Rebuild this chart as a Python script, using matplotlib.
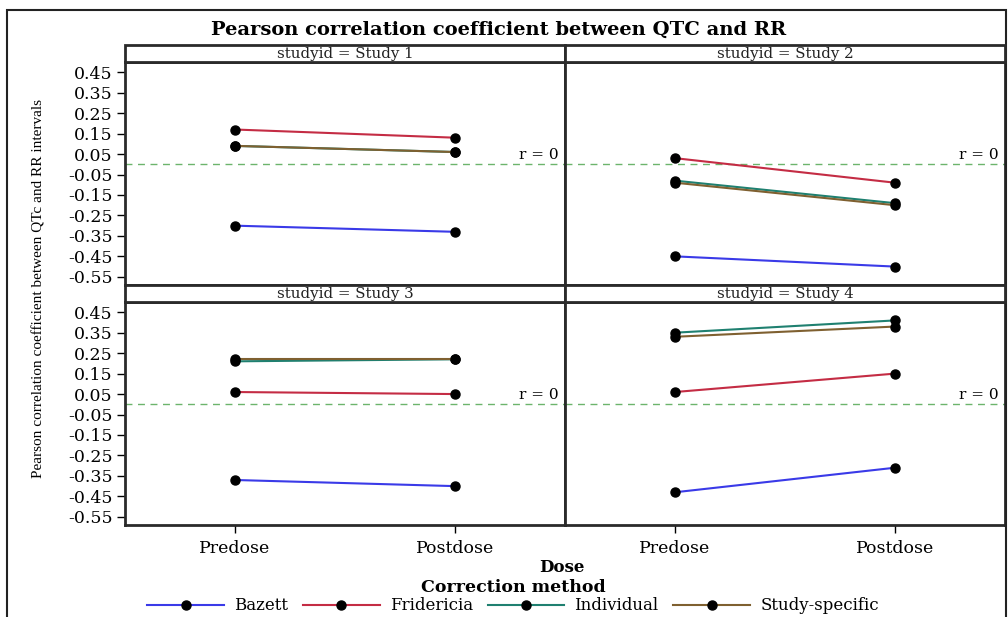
import matplotlib
matplotlib.use("Agg")
import matplotlib.pyplot as plt
from matplotlib.patches import Rectangle
from matplotlib.lines import Line2D

# ---- data ----
doses = ["Predose", "Postdose"]
studies = ["Study 1", "Study 2", "Study 3", "Study 4"]
methods = ["Bazett", "Fridericia", "Individual", "Study-specific"]
colors = ["#3a3ae8", "#c42c44", "#1f8070", "#7f6030"]

bazett = [[-0.30, -0.33], [-0.45, -0.50], [-0.37, -0.40], [-0.43, -0.31]]
fridericia = [[0.17, 0.13], [0.03, -0.09], [0.06, 0.05], [0.06, 0.15]]
individual = [[0.09, 0.06], [-0.08, -0.19], [0.21, 0.22], [0.35, 0.41]]
study_specific = [[0.09, 0.06], [-0.09, -0.20], [0.22, 0.22], [0.33, 0.38]]
series = [bazett, fridericia, individual, study_specific]

yticks = [0.45, 0.35, 0.25, 0.15, 0.05, -0.05, -0.15, -0.25, -0.35, -0.45, -0.55]
ref_value = 0.0

SERIF = "DejaVu Serif"
NARROW = "Liberation Serif"

W, H = 1008, 617
fig = plt.figure(figsize=(W / 100, H / 100), dpi=100)

def fx(px):
    return px / W

def fy(py):
    return 1 - py / H

# outer frame
fig.patches.append(Rectangle((fx(7), fy(640)), fx(999), fy(10) - fy(640),
                             transform=fig.transFigure, fill=False,
                             edgecolor="#222222", linewidth=1.5))

fig.text(fx(499), fy(30), "Pearson correlation coefficient between QTC and RR",
         ha="center", va="center", fontsize=14, fontweight="bold", family=SERIF)

col_x = [125, 565]
row_y = [(45, 62, 285), (285, 302, 525)]
edge = "#2a2a2a"

for i, study in enumerate(studies):
    r, c = divmod(i, 2)
    x0 = col_x[c]
    hy0, ay0, ay1 = row_y[r]
    # header strip
    fig.patches.append(Rectangle((fx(x0), fy(ay0)), fx(440), fy(hy0) - fy(ay0),
                                 transform=fig.transFigure, facecolor="white",
                                 edgecolor=edge, linewidth=2, zorder=3))
    fig.text(fx(x0 + 220), fy((hy0 + ay0) / 2 + 0.5), "studyid = " + study,
             ha="center", va="center", fontsize=10.8, family=SERIF, color="#222222", zorder=4)
    ax = fig.add_axes([fx(x0), fy(ay1), fx(440), fy(ay0) - fy(ay1)])
    for m, s in enumerate(series):
        ax.plot([0, 1], s[i], color=colors[m], lw=1.5, marker="o", ms=6.5,
                mfc="black", mec="black", zorder=3)
    ax.axhline(ref_value, color="#6cb46c", ls=(0, (5, 4)), lw=1)
    ax.text(0.985, ref_value + 0.012, "r = 0", transform=ax.get_yaxis_transform(),
            ha="right", va="bottom", fontsize=11, family=SERIF)
    ax.set_xlim(-0.5, 1.5)
    ax.set_ylim(-0.59, 0.50)
    for sp in ax.spines.values():
        sp.set_linewidth(2)
        sp.set_color(edge)
    ax.set_yticks(yticks)
    ax.set_xticks([0, 1])
    if c == 0:
        ax.set_yticklabels([f"{v:.2f}" for v in yticks], family=SERIF, fontsize=12.5)
        ax.tick_params(axis="y", length=6, width=1, direction="out", pad=3)
    else:
        ax.tick_params(axis="y", left=False, labelleft=False)
    if r == 1:
        ax.set_xticklabels(doses, family=SERIF, fontsize=12.5)
        ax.tick_params(axis="x", length=6, width=1, direction="out", pad=5)
    else:
        ax.tick_params(axis="x", bottom=False, labelbottom=False)

fig.text(fx(39), fy(289), "Pearson correlation coefficient between QTc and RR intervals",
         rotation=90, ha="center", va="center", fontsize=11, family=NARROW)

fig.text(fx(562), fy(567), "Dose", ha="center", va="center", fontsize=12,
         fontweight="bold", family=SERIF)

handles = [Line2D([0], [0], color=col, lw=1.5, marker="o", ms=6.5,
                  mfc="black", mec="black") for col in colors]
leg = fig.legend(handles, methods, loc="upper center",
                 bbox_to_anchor=(fx(513), fy(579)), ncol=4, frameon=False,
                 title="Correction method", handlelength=4.6, columnspacing=0.9,
                 handletextpad=0.6, borderpad=0, borderaxespad=0,
                 prop={"family": SERIF, "size": 12},
                 title_fontproperties={"family": SERIF, "size": 12.5, "weight": "bold"})
leg._legend_box.sep = 1

fig.savefig("out.png", dpi=100)
